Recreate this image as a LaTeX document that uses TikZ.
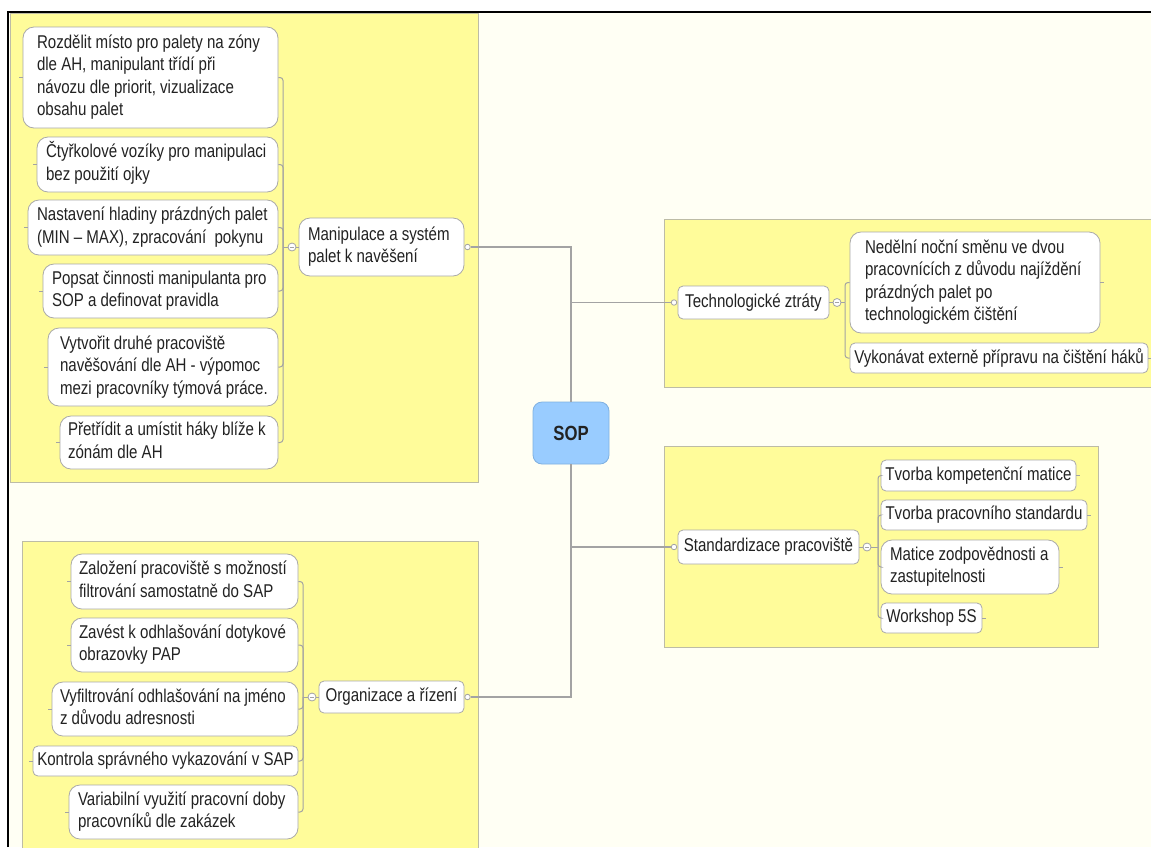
\documentclass[tikz,border=0pt]{standalone}
\usepackage{fontspec}
\setmainfont{Liberation Sans}[FakeStretch=0.815]
\definecolor{bgc}{HTML}{FFFFF4}
\definecolor{zoney}{HTML}{FFFC9A}
\definecolor{zoneb}{HTML}{BDBCA6}
\definecolor{nodeline}{HTML}{A9A9A9}
\definecolor{linkc}{HTML}{A3A3A3}
\definecolor{txt}{HTML}{222222}
\definecolor{sopfill}{HTML}{99CCFF}
\definecolor{sopline}{HTML}{7FB0E0}
\tikzset{
  box/.style={draw=nodeline, fill=white, line width=0.8pt, text=txt,
    inner ysep=0pt, font=\fontsize{18.5}{22.5}\selectfont},
  one/.style={box, rounded corners=5pt},
  multi/.style={box, rounded corners=11pt},
  link/.style={draw=linkc, line width=1.3pt},
  sub/.style={draw=linkc, line width=1pt, rounded corners=3pt},
  tick/.style={draw=linkc, line width=0.8pt},
  zone/.style={fill=zoney, draw=zoneb, line width=0.8pt},
  collapse/.style={circle, draw=linkc, fill=white, line width=0.8pt, minimum size=8pt, inner sep=0pt},
  hollow/.style={circle, draw=linkc, fill=white, line width=0.8pt, minimum size=5.5pt, inner sep=0pt},
  sopbox/.style={draw=sopline, fill=sopfill, line width=0.8pt, rounded corners=9pt,
    minimum width=76pt, minimum height=62pt, text=txt, font=\fontsize{20.5}{22}\selectfont\bfseries},
}
% name, style, cx, cy, W, H, pad, text lines
\newcommand\leafat[8]{%
  \node[#2, minimum width=#5pt, minimum height=#6pt, inner xsep=#7pt] (#1) at (#3,#4)
    {\makebox[\dimexpr#5pt-#7pt-#7pt\relax][l]{\begin{tabular}{@{}l@{}}#8\end{tabular}}};}
\begin{document}
\begin{tikzpicture}[x=1pt, y=-1pt]
\useasboundingbox (0,0) rectangle (1151,847);
\fill[white] (0,0) rectangle (1151,847);
\fill[bgc] (9,13) rectangle (1151,847);
% zones
\path[zone] (10,13) rectangle (478,482);
\path[zone] (22,541) rectangle (478,852);
\path[zone] (664,219) rectangle (1156,387);
\path[zone] (664,446) rectangle (1098,647);
\draw[black, line width=2pt] (8,847) -- (8,12) -- (1151,12);

% central
\node[sopbox] (sop) at (571,433) {SOP};

% top-left group
\leafat{manip}{multi}{381.5}{247}{165}{58}{9}{Manipulace a systém\\palet k navěšení}
\leafat{rozd}{multi}{150.5}{77.5}{255}{101}{14}{Rozdělit místo pro palety na zóny\\dle AH, manipulant třídí při\\návozu dle priorit, vizualizace\\obsahu palet}
\leafat{ctyr}{multi}{157.5}{164.5}{241}{55}{9}{Čtyřkolové vozíky pro manipulaci\\bez použití ojky}
\leafat{nast}{multi}{153}{227.5}{250}{55}{9}{Nastavení hladiny prázdných palet\\(MIN – MAX), zpracování\ \ pokynu}
\leafat{pops}{multi}{160.5}{291}{235}{54}{9}{Popsat činnosti manipulanta pro\\SOP a definovat pravidla}
\leafat{vytv}{multi}{163}{367}{230}{78}{12}{Vytvořit druhé pracoviště\\navěšování dle AH - výpomoc\\mezi pracovníky týmová práce.}
\leafat{pret}{multi}{169}{442.5}{218}{53}{8}{Přetřídit a umístit háky blíže k\\zónám dle AH}

% bottom-left group
\node[one, minimum width=145pt, minimum height=32pt, inner xsep=6pt] (org) at (391.5,697) {Organizace a řízení};
\leafat{zal}{multi}{184.5}{581.5}{227}{55}{8}{Založení pracoviště s možností\\filtrování samostatně do SAP}
\leafat{zav}{multi}{184.5}{645}{227}{54}{8}{Zavést k odhlašování dotykové\\obrazovky PAP}
\leafat{vyf}{multi}{175}{709}{246}{54}{8}{Vyfiltrování odhlašování na jméno\\z důvodu adresnosti}
\node[one, minimum width=265pt, minimum height=30pt, inner xsep=3pt] (kon) at (165.5,761) {Kontrola správného vykazování v SAP};
\leafat{var}{multi}{183.5}{812}{229}{54}{9}{Variabilní využití pracovní doby\\pracovníků dle zakázek}

% top-right group
\node[one, minimum width=151pt, minimum height=33pt, inner xsep=5pt] (tech) at (753.5,302.5) {Technologické ztráty};
\leafat{ned}{multi}{975}{282.5}{250}{101}{15}{Nedělní noční směnu ve dvou\\pracovnících z důvodu najíždění\\prázdných palet po\\technologickém čištění}
\node[one, minimum width=298pt, minimum height=30pt, inner xsep=3pt] (vyk) at (999,358) {Vykonávat externě přípravu na čištění háků};

% bottom-right group
\node[one, minimum width=181pt, minimum height=34pt, inner xsep=5pt] (std) at (768.5,547) {Standardizace pracoviště};
\node[one, minimum width=195pt, minimum height=31pt, inner xsep=4pt] (tk) at (978.5,475.5) {Tvorba kompetenční matice};
\node[one, minimum width=206pt, minimum height=30pt, inner xsep=4pt] (tp) at (984,515) {Tvorba pracovního standardu};
\leafat{mz}{multi}{970}{567}{178}{54}{9}{Matice zodpovědnosti a\\zastupitelnosti}
\node[one, minimum width=101pt, minimum height=30pt, inner xsep=4pt] (ws) at (931.5,618) {Workshop 5S};

% collapse markers and connection points
\node[collapse] (mc) at (292,247) {};
\node[collapse] (oc) at (312,697) {};
\node[collapse] (tc) at (837,302.5) {};
\node[collapse] (sc) at (867,547) {};
\foreach \c in {mc,oc,tc,sc} \draw[linkc, line width=0.8pt] ([xshift=-2.2pt]\c.center) -- ([xshift=2.2pt]\c.center);
\node[hollow] (mh) at (467.5,247) {};
\node[hollow] (oh) at (467.5,697) {};
\node[hollow] (th) at (674,302.5) {};
\node[hollow] (sh) at (674,547) {};
\coordinate (mv) at (283,247);
\coordinate (ov) at (303,697);
\coordinate (tv) at (845,302.5);
\coordinate (sv) at (878,547);

% trunk
\draw[link] (sop.north) |- (mh);
\draw[link] (sop.north) |- (th);
\draw[link] (sop.south) |- (sh);
\draw[link] (sop.south) |- (oh);

% group links
\draw[sub] (mc) -- (manip);
\draw[sub] (mc) -- (mv);
\foreach \n in {rozd,ctyr,nast,pops,vytv,pret} {\draw[sub] (mv) |- (\n.east); \draw[tick] (\n.west) -- ++(-3.5,0);}
\draw[sub] (oc) -- (org);
\draw[sub] (oc) -- (ov);
\foreach \n in {zal,zav,vyf,kon,var} {\draw[sub] (ov) |- (\n.east); \draw[tick] (\n.west) -- ++(-3.5,0);}
\draw[sub] (tc) -- (tech);
\draw[sub] (tc) -- (tv);
\foreach \n in {ned,vyk} {\draw[sub] (tv) |- (\n.west); \draw[tick] (\n.east) -- ++(3.5,0);}
\draw[sub] (sc) -- (std);
\draw[sub] (sc) -- (sv);
\foreach \n in {tk,tp,mz,ws} {\draw[sub] (sv) |- (\n.west); \draw[tick] (\n.east) -- ++(3.5,0);}
\end{tikzpicture}
\end{document}
